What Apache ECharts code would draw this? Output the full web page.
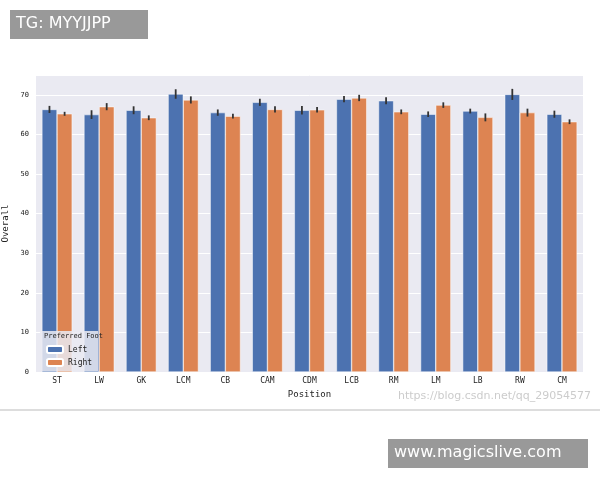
<!DOCTYPE html><html><head><meta charset="utf-8"><script src="https://cdn.jsdelivr.net/npm/echarts@6/dist/echarts.min.js"></script>
<style>body{margin:0;background:#fff}#c{width:600px;height:480px}</style></head><body><div id="c"></div><script>
const positions=['ST','LW','GK','LCM','CB','CAM','CDM','LCB','RM','LM','LB','RW','CM'];
const leftVals=[66.3,65.0,66.1,70.2,65.5,68.1,66.1,68.9,68.5,65.1,65.9,70.1,65.1];
const rightVals=[65.2,67.0,64.2,68.7,64.6,66.3,66.2,69.2,65.7,67.4,64.3,65.5,63.2];
const leftErr=[0.9,1.1,1.0,1.2,0.8,0.9,1.1,0.8,0.9,0.7,0.6,1.4,0.9];
const rightErr=[0.5,0.9,0.6,0.9,0.6,0.8,0.7,0.8,0.6,0.7,1.0,1.0,0.6];
const chart=echarts.init(document.getElementById('c'));
function errSeries(vals,errs,side){
  return {type:'custom',z:5,silent:true,data:vals.map((v,i)=>[i,v-errs[i],v+errs[i]]),
    renderItem:(p,api)=>{const bw=api.size([1,0])[0];const off=side*bw*0.18;
      const a=api.coord([api.value(0),api.value(1)]),b=api.coord([api.value(0),api.value(2)]);
      return {type:'line',shape:{x1:a[0]+off,y1:a[1],x2:b[0]+off,y2:b[1]},style:{stroke:'#333',lineWidth:1.8}};}};
}
chart.setOption({
  animation:false,
  graphic:[
    {type:'rect',left:10,top:10,shape:{width:138,height:29},style:{fill:'#999'}},
    {type:'text',left:16,top:16,style:{text:'TG: MYYJJPP',fill:'#fff',font:'16px "DejaVu Sans"'}},
    {type:'rect',left:388,top:439,shape:{width:200,height:29},style:{fill:'#999'}},
    {type:'text',left:394,top:445,style:{text:'www.magicslive.com',fill:'#fff',font:'16px "DejaVu Sans"'}},
    {type:'line',shape:{x1:0,y1:410,x2:600,y2:410},style:{stroke:'#bbb',lineWidth:1}},
    {type:'text',left:398,top:391,style:{text:'https://blog.csdn.net/qq_29054577',fill:'#ccc',font:'11px "DejaVu Sans"'}},
    {type:'text',left:44,top:333,z:100,style:{text:'Preferred Foot',fill:'#222',font:'7px "DejaVu Sans Mono"'}}
  ],
  grid:{left:36,right:17,top:75,bottom:108,outerBoundsMode:'none',containLabel:false,backgroundColor:'#eaeaf2',show:true,borderWidth:0},
  legend:{left:40,top:331,orient:'vertical',itemWidth:16,itemHeight:7,itemGap:4,
    backgroundColor:'rgba(234,234,242,0.85)',borderColor:'#ccc',borderWidth:0,padding:[14,6,4,6],
    textStyle:{fontSize:8,fontFamily:'DejaVu Sans Mono',color:'#222'},data:['Left','Right']},
  xAxis:{type:'category',data:positions,name:'Position',nameLocation:'middle',nameGap:14,
    nameTextStyle:{fontSize:9,fontFamily:'DejaVu Sans Mono',color:'#222'},
    axisLine:{show:false},axisTick:{show:false},axisLabel:{fontSize:8,fontFamily:'DejaVu Sans Mono',color:'#222',margin:5}},
  yAxis:{type:'value',min:0,max:75,interval:10,name:'Overall',nameLocation:'middle',nameGap:22,
    nameTextStyle:{fontSize:9,fontFamily:'DejaVu Sans Mono',color:'#222'},
    axisLabel:{fontSize:7,fontFamily:'DejaVu Sans Mono',color:'#222',margin:7,showMaxLabel:false},
    splitLine:{lineStyle:{color:'#fff',width:1}},axisLine:{show:false},axisTick:{show:false}},
  series:[
    {name:'Left',type:'bar',data:leftVals,barGap:'0%',barCategoryGap:'28%',itemStyle:{color:'#4c72b0',borderColor:'#fff',borderWidth:0.5}},
    {name:'Right',type:'bar',data:rightVals,itemStyle:{color:'#dd8452',borderColor:'#fff',borderWidth:0.5}},
    errSeries(leftVals,leftErr,-1),errSeries(rightVals,rightErr,1)
  ]
});
</script></body></html>
